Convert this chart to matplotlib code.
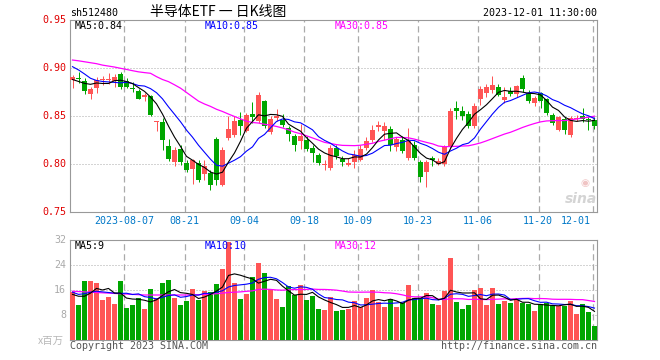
import numpy as np
import pandas as pd
import matplotlib
matplotlib.use('Agg')
import matplotlib.pyplot as plt

# daily candles, 2023-07-25 .. 2023-12-01
open_ = [0.888, 0.889, 0.8869, 0.8734, 0.8789, 0.8876, 0.8876, 0.8869, 0.8938, 0.8869,
         0.8789, 0.8761, 0.8703, 0.8713, 0.8436, 0.8439, 0.819, 0.8017, 0.8156, 0.801,
         0.7945, 0.801, 0.790, 0.7907, 0.826, 0.7785, 0.827, 0.8305, 0.846, 0.8339,
         0.8522, 0.8443, 0.8661, 0.8329, 0.8474, 0.846, 0.8374, 0.8294, 0.8235, 0.8253,
         0.8166, 0.8097, 0.7993, 0.7959, 0.8166, 0.8055, 0.799, 0.8017, 0.8045, 0.8166,
         0.8246, 0.8381, 0.8339, 0.8367, 0.8176, 0.8253, 0.8062, 0.82, 0.8017, 0.7913,
         0.8062, 0.8003, 0.8003, 0.8176, 0.8588, 0.8557, 0.8522, 0.8398, 0.8675, 0.8744,
         0.8772, 0.8806, 0.8668, 0.8761, 0.8727, 0.8893, 0.8744, 0.864, 0.8737, 0.8675,
         0.8512, 0.8356, 0.8467, 0.8304, 0.8467, 0.8495, 0.8462, 0.846]
high = [0.893, 0.8955, 0.8893, 0.8806, 0.891, 0.8917, 0.8945, 0.8934, 0.8962, 0.8893,
        0.8855, 0.8779, 0.8737, 0.872, 0.845, 0.8478, 0.826, 0.8176, 0.82, 0.8038,
        0.8052, 0.8045, 0.8045, 0.7941, 0.828, 0.8176, 0.8495, 0.8495, 0.854, 0.853,
        0.8644, 0.8754, 0.8668, 0.8495, 0.857, 0.8522, 0.8391, 0.8315, 0.8419, 0.8294,
        0.82, 0.8114, 0.8045, 0.82, 0.82, 0.8086, 0.8062, 0.8149, 0.82, 0.828,
        0.8408, 0.8443, 0.8433, 0.8391, 0.828, 0.8287, 0.8374, 0.8235, 0.8038, 0.8045,
        0.8086, 0.8062, 0.82, 0.8581, 0.8657, 0.8599, 0.8547, 0.864, 0.8813, 0.8834,
        0.8917, 0.8834, 0.8806, 0.88, 0.8824, 0.8927, 0.8772, 0.871, 0.8754, 0.8685,
        0.8536, 0.8502, 0.8488, 0.8495, 0.8512, 0.8581, 0.8495, 0.8488]
low = [0.879, 0.8848, 0.8727, 0.8675, 0.8744, 0.8824, 0.8834, 0.8806, 0.8782, 0.8789,
       0.8754, 0.8675, 0.8661, 0.8502, 0.834, 0.8149, 0.8028, 0.7983, 0.799, 0.7913,
       0.7796, 0.781, 0.7837, 0.7734, 0.7785, 0.7775, 0.8253, 0.828, 0.8305, 0.8329,
       0.8426, 0.8426, 0.8374, 0.8315, 0.845, 0.8384, 0.8235, 0.8131, 0.8156, 0.8131,
       0.8017, 0.7993, 0.7941, 0.7941, 0.8052, 0.7983, 0.7976, 0.7959, 0.8028, 0.8149,
       0.8225, 0.8339, 0.8253, 0.8131, 0.8131, 0.8114, 0.8045, 0.8038, 0.781, 0.7758,
       0.7976, 0.7993, 0.7983, 0.8156, 0.8467, 0.846, 0.8374, 0.8374, 0.8616, 0.8702,
       0.8737, 0.8709, 0.8633, 0.8709, 0.8702, 0.8754, 0.864, 0.8606, 0.8581, 0.8512,
       0.8408, 0.8339, 0.8315, 0.8277, 0.8443, 0.8433, 0.8356, 0.8363]
close = [0.891, 0.8887, 0.8765, 0.8782, 0.8875, 0.8886, 0.8886, 0.891, 0.8806, 0.8806,
         0.878, 0.8678, 0.8713, 0.8512, 0.845, 0.8246, 0.8052, 0.8142, 0.8024, 0.7934,
         0.8045, 0.7837, 0.798, 0.7785, 0.783, 0.8142, 0.8367, 0.8453, 0.8391, 0.8512,
         0.8488, 0.872, 0.8391, 0.8471, 0.8495, 0.8405, 0.8315, 0.8201, 0.8294, 0.8156,
         0.8114, 0.801, 0.8003, 0.8166, 0.808, 0.8017, 0.801, 0.8097, 0.8156, 0.8235,
         0.8356, 0.8408, 0.8398, 0.82, 0.8259, 0.8131, 0.8235, 0.8062, 0.7862, 0.8017,
         0.8038, 0.8028, 0.8176, 0.8547, 0.8547, 0.8505, 0.8391, 0.8606, 0.8779, 0.8806,
         0.8824, 0.872, 0.8702, 0.873, 0.8813, 0.8779, 0.8661, 0.8685, 0.8661, 0.853,
         0.8426, 0.8488, 0.835, 0.8478, 0.8478, 0.8467, 0.8457, 0.8391]
# volume, millions
volume = [15.4, 11.2, 18.9, 18.9, 18.2, 12.8, 13.7, 11.5, 18.9, 10.2,
          11.2, 13.4, 9.9, 16.2, 13.6, 18.2, 19.3, 13.5, 11.2, 12.5,
          16.3, 12.9, 15.8, 15.4, 17.9, 22.8, 31.4, 18.3, 13.2, 14.7,
          20.1, 24.7, 21.3, 16.3, 13.1, 10.7, 17.3, 14.4, 17.7, 12.8,
          14.1, 9.9, 9.6, 13.7, 9.3, 9.6, 10.0, 12.5, 10.6, 13.4,
          16.0, 12.2, 10.6, 13.1, 10.6, 11.8, 17.6, 13.4, 13.4, 15.0,
          11.5, 11.2, 15.7, 26.2, 12.2, 9.9, 11.2, 16.0, 16.6, 11.2,
          16.6, 11.5, 12.5, 11.8, 12.8, 11.8, 11.5, 9.3, 11.5, 11.8,
          11.2, 10.9, 10.9, 12.5, 8.3, 11.5, 9.0, 4.5]

# moving averages at the start of the window (history is off the chart)
ma5_head = [0.888, 0.886, 0.884, 0.883]
ma10_head = [0.9014, 0.898, 0.8938, 0.8893, 0.887, 0.886, 0.8855, 0.885, 0.8845]
ma30_head = [0.9083, 0.9075, 0.9065, 0.9055, 0.9045, 0.903, 0.902, 0.901, 0.8997, 0.8985,
             0.8972, 0.896, 0.8952, 0.8945, 0.891, 0.888, 0.8858, 0.8825, 0.879, 0.8745,
             0.870, 0.8655, 0.8625, 0.860, 0.857, 0.8547, 0.852, 0.8495, 0.847]
vma5_head = [14.6, 14.0, 14.0, 15.0]
vma10_head = [15.3, 14.6, 14.8, 15.3, 15.6, 15.4, 15.2, 15.0, 14.9]
vma30_head = [15.6, 15.5, 15.4, 15.3, 15.2, 15.1, 15.0, 14.9, 14.8, 14.7,
              14.6, 14.5, 14.4, 14.4, 14.4, 14.4, 14.4, 14.4, 14.4, 14.4,
              14.4, 14.5, 14.6, 14.7, 14.8, 15.0, 15.2, 15.3, 15.4]

date_idx = [9, 19, 29, 39, 48, 58, 68, 78, 87]
date_lab = ['2023-08-07', '08-21', '09-04', '09-18', '10-09', '10-23', '11-06', '11-20', '12-01']

W, H = 660, 360
RED = '#ff5555'
GREEN = '#00a600'
GRID = '#aaaaaa'
MONO = 'DejaVu Sans Mono'
CJK = ['Noto Sans CJK SC', 'DejaVu Sans']

fig = plt.figure(figsize=(6.6, 3.6), dpi=100)


def px_axes(x0, y0, x1, y1):
    return fig.add_axes([x0 / W, 1 - y1 / H, (x1 - x0) / W, (y1 - y0) / H])


def ftext(x, y, s, **kw):
    kw.setdefault('family', MONO)
    kw.setdefault('size', 7.2)
    kw.setdefault('va', 'center')
    fig.text(x / W, 1 - y / H, s, **kw)


def moving(values, n, head):
    m = pd.Series(values).rolling(n).mean().to_numpy()
    m[:n - 1] = head
    return m


def frame(ax, hlines):
    ax.set_xlim((70 - 72.5) / 6, (597 - 72.5) / 6)
    ax.set_xticks([])
    ax.set_yticks([])
    for s in ax.spines.values():
        s.set_color('#999999')
        s.set_linewidth(0.8)
    for v in hlines:
        ax.axhline(v, color=GRID, lw=0.72, ls=(0, (1, 2)), zorder=0)
    for i in date_idx:
        ax.axvline(i - 1 / 3, color=GRID, lw=0.9, ls=(0, (5, 3)), zorder=0)


x = np.arange(len(close))
o = np.array(open_)
c = np.array(close)
colors = np.where(c >= o, RED, GREEN)

ax = px_axes(70, 20, 597, 212)
frame(ax, [0.90, 0.85, 0.80])
ax.set_ylim(0.75, 0.95)
ax.vlines(x, low, high, colors=colors, lw=0.72, zorder=2)
ax.bar(x, np.maximum(np.abs(c - o), 0.0011), bottom=np.minimum(o, c),
       width=5 / 6, color=colors, linewidth=0, zorder=3)
ax.plot(x, moving(close, 30, ma30_head), color='#ff00ff', lw=0.9, zorder=4)
ax.plot(x, moving(close, 10, ma10_head), color='#0000ff', lw=0.8, zorder=4)
ax.plot(x, moving(close, 5, ma5_head), color='black', lw=0.8, zorder=4)

axv = px_axes(70, 240, 597, 340)
frame(axv, [24, 16, 8])
axv.set_ylim(0, 32)
axv.bar(x, volume, width=5 / 6, color=colors, linewidth=0, zorder=3)
axv.plot(x, moving(volume, 30, vma30_head), color='#ff00ff', lw=0.9, zorder=4)
axv.plot(x, moving(volume, 10, vma10_head), color='#0000ff', lw=0.8, zorder=4)
axv.plot(x, moving(volume, 5, vma5_head), color='black', lw=0.8, zorder=4)

# header
ftext(70, 13, 'sh512480')
ftext(150, 12, '半导体ETF 一 日K线图', family=CJK, size=10)
ftext(597, 13, '2023-12-01 11:30:00', ha='right')

# legends
ftext(75, 26, 'MA5:0.84', color='black')
ftext(205, 26, 'MA10:0.85', color='#0000ff')
ftext(335, 26, 'MA30:0.85', color='#ff00ff')
ftext(75, 246, 'MA5:9', color='black')
ftext(205, 246, 'MA10:10', color='#0000ff')
ftext(335, 246, 'MA30:12', color='#ff00ff')

# axis labels
for v in [0.95, 0.90, 0.85, 0.80, 0.75]:
    ftext(66, 20 + (0.95 - v) * 960, '%.2f' % v, color='#e00000', ha='right')
for v in [32, 24, 16, 8]:
    ftext(66, 340 - v * 100 / 32, str(v), color='#aaaaaa', ha='right')
ftext(64, 341, 'x百万', family=CJK, size=7.5, color='#b8b8b8', ha='right')
for i, lab in zip(date_idx, date_lab):
    px = 70 + 6 * i
    if i == date_idx[-1]:
        ftext(591, 221, lab, color='#0078c8', ha='right')
    else:
        ftext(px, 221, lab, color='#0078c8', ha='center')

# footer and watermark
ftext(70, 346, 'Copyright 2023 SINA.COM', color='#555555')
ftext(597, 346, 'http://finance.sina.com.cn', color='#555555', ha='right')
ftext(585, 183, '◉', family='DejaVu Sans', size=7.5, color='#f0c4c4', ha='center')
ftext(581, 199, 'sina', family='DejaVu Sans', size=10, weight='bold', style='italic',
      color='#d4d4d4', ha='center')

fig.savefig('out.png', dpi=100)
